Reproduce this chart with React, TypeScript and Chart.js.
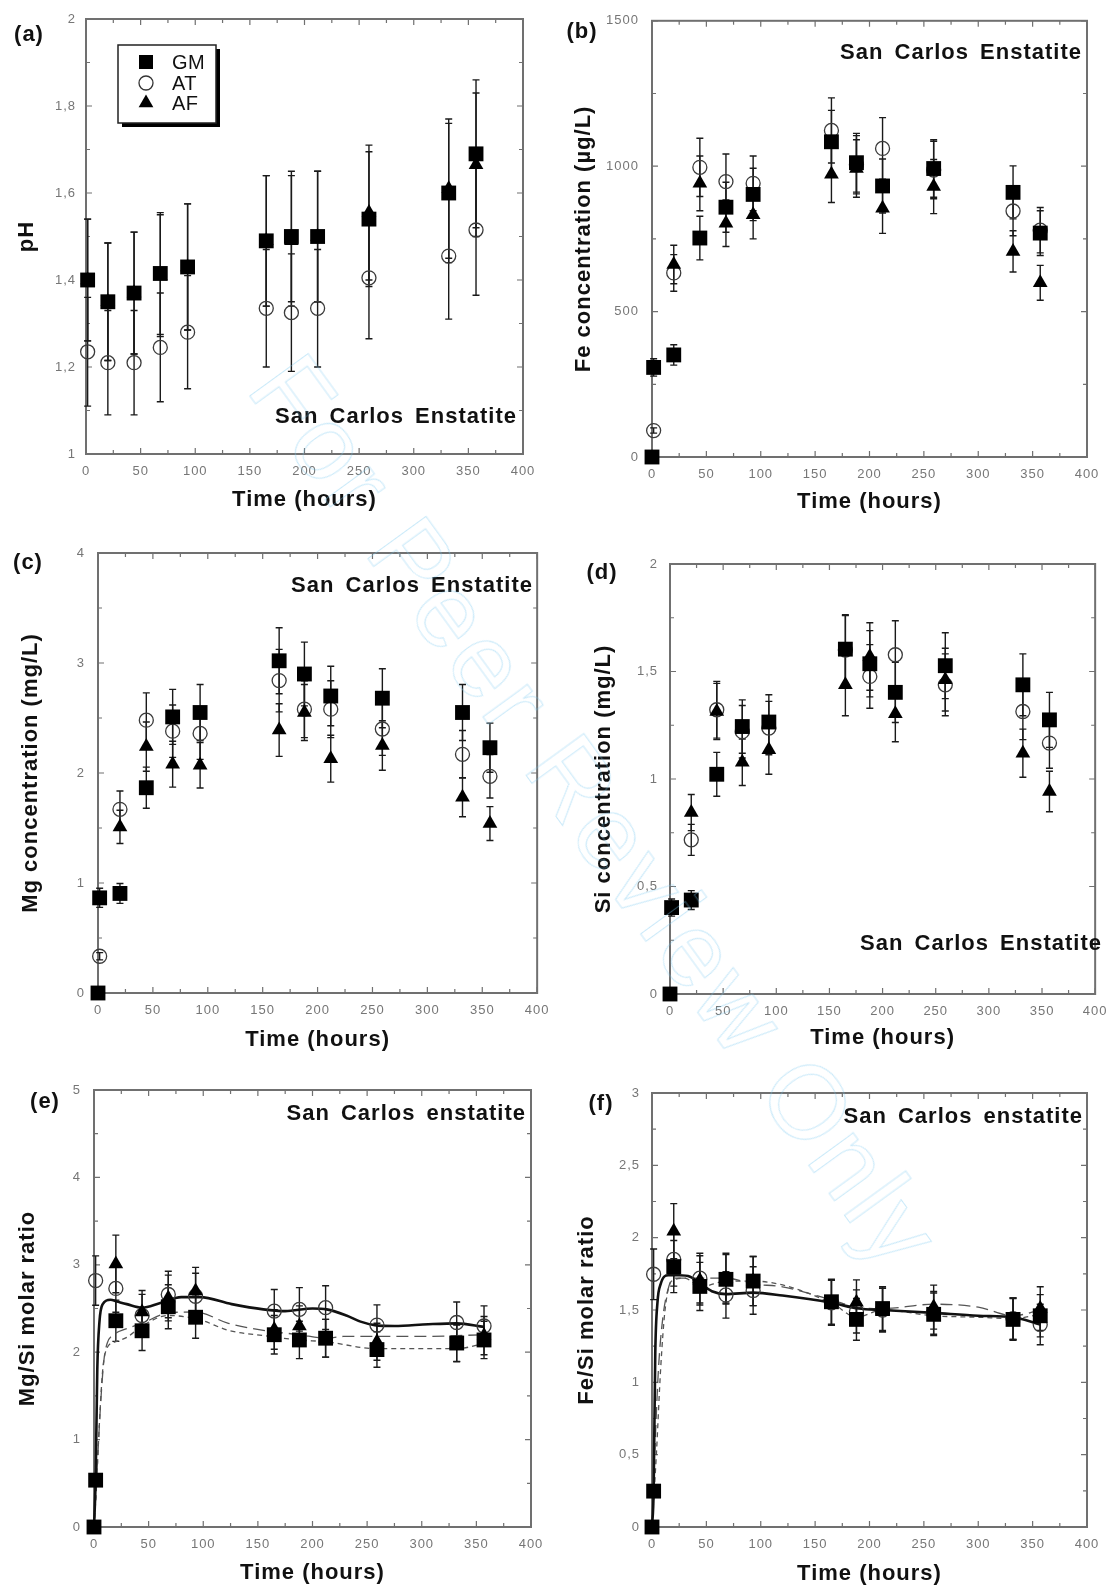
import React, { useEffect, useRef } from 'react';
import { Chart, registerables } from 'chart.js';

Chart.register(...registerables);

const FONT = '"Liberation Sans", Arial, Helvetica, sans-serif';
const TEXT = '#111111';
const TICK_COLOR = '#767676';
const AXIS_COLOR = '#707070';

// Sampling times (hours)
const TIME = [0, 1.5, 20, 44, 68, 93, 165, 188, 212, 259, 332, 357];

// X axis
const X_MIN = 0;
const X_MAX = 400;
const X_STEP = 50;
const X_MINOR = 25;

// (a) pH
const PH_GM = [null, 1.40, 1.35, 1.37, 1.415, 1.43, 1.49, 1.50, 1.50, 1.54, 1.60, 1.69];
const PH_GM_ERR = [null, 0.14, 0.135, 0.14, 0.14, 0.145, 0.15, 0.15, 0.15, 0.155, 0.16, 0.17];
const PH_AT = [null, 1.235, 1.21, 1.21, 1.245, 1.28, 1.335, 1.325, 1.335, 1.405, 1.455, 1.515];
const PH_AT_ERR = [null, 0.125, 0.12, 0.12, 0.125, 0.13, 0.135, 0.135, 0.135, 0.14, 0.145, 0.15];
const PH_AF = [null, 1.40, 1.35, 1.37, 1.41, 1.43, 1.49, 1.49, 1.50, 1.555, 1.61, 1.665];
const PH_AF_ERR = [null, 0.14, 0.135, 0.14, 0.14, 0.145, 0.15, 0.15, 0.15, 0.155, 0.16, 0.165];

// (b) Fe concentration (µg/L)
const FE_GM = [0, 308, 351, 753, 859, 903, 1084, 1012, 932, 992, 910, 770];
const FE_GM_ERR = [0, 30, 35, 75, 86, 90, 108, 101, 93, 99, 91, 77];
const FE_AT = [null, 91, 633, 996, 947, 941, 1123, 1005, 1061, 987, 846, 780];
const FE_AT_ERR = [null, 9, 63, 100, 95, 94, 112, 100, 106, 99, 85, 78];
const FE_AF = [null, null, 662, 941, 804, 833, 972, 992, 855, 930, 707, 599];
const FE_AF_ERR = [null, null, 66, 94, 80, 83, 97, 99, 86, 93, 71, 60];

// (c) Mg concentration (mg/L)
const MG_GM = [0, 0.865, 0.905, 1.866, 2.51, 2.55, 3.02, 2.90, 2.70, 2.68, 2.55, 2.23];
const MG_GM_ERR = [0, 0.087, 0.09, 0.187, 0.25, 0.255, 0.30, 0.29, 0.27, 0.268, 0.255, 0.223];
const MG_AT = [null, 0.334, 1.67, 2.48, 2.38, 2.36, 2.84, 2.58, 2.58, 2.40, 2.17, 1.97];
const MG_AT_ERR = [null, 0.033, 0.167, 0.248, 0.238, 0.236, 0.284, 0.258, 0.258, 0.24, 0.217, 0.197];
const MG_AF = [null, null, 1.51, 2.24, 2.08, 2.07, 2.39, 2.55, 2.13, 2.25, 1.78, 1.54];
const MG_AF_ERR = [null, null, 0.151, 0.224, 0.208, 0.207, 0.239, 0.255, 0.213, 0.225, 0.178, 0.154];

// (d) Si concentration (mg/L)
const SI_GM = [0, 0.402, 0.437, 1.022, 1.244, 1.265, 1.604, 1.536, 1.403, 1.527, 1.438, 1.275];
const SI_GM_ERR = [0, 0.04, 0.044, 0.102, 0.124, 0.127, 0.16, 0.154, 0.14, 0.153, 0.144, 0.128];
const SI_AT = [null, null, 0.717, 1.322, 1.22, 1.237, 1.60, 1.477, 1.578, 1.438, 1.314, 1.167];
const SI_AT_ERR = [null, null, 0.072, 0.132, 0.122, 0.124, 0.16, 0.148, 0.158, 0.144, 0.131, 0.117];
const SI_AF = [null, null, 0.844, 1.314, 1.078, 1.136, 1.438, 1.57, 1.303, 1.462, 1.12, 0.942];
const SI_AF_ERR = [null, null, 0.084, 0.131, 0.108, 0.114, 0.144, 0.157, 0.13, 0.146, 0.112, 0.094];

// (e) Mg/Si molar ratio
const MGSI_GM = [0, 0.536, 2.36, 2.245, 2.52, 2.40, 2.20, 2.14, 2.16, 2.03, 2.105, 2.14];
const MGSI_GM_ERR = [0, 0.054, 0.236, 0.225, 0.252, 0.24, 0.22, 0.214, 0.216, 0.203, 0.21, 0.214];
const MGSI_AT = [null, 2.82, 2.73, 2.42, 2.66, 2.64, 2.47, 2.49, 2.51, 2.31, 2.34, 2.30];
const MGSI_AT_ERR = [null, 0.282, 0.273, 0.242, 0.266, 0.264, 0.247, 0.249, 0.251, 0.231, 0.234, 0.23];
const MGSI_AF = [null, null, 3.01, 2.46, 2.62, 2.70, 2.26, 2.30, 2.16, 2.12, 2.10, 2.19];
const MGSI_AF_ERR = [null, null, 0.33, 0.246, 0.262, 0.27, 0.226, 0.23, 0.216, 0.212, 0.21, 0.219];

// (e) fitted curves
const E_SOLID_T = [0, 1.5, 3, 5, 8, 15, 21, 30, 44, 60, 80, 97, 126, 155, 175, 200, 213, 231, 244, 257, 275, 306, 332, 357];
const E_SOLID_V = [0, 0.54, 1.8, 2.35, 2.55, 2.60, 2.58, 2.55, 2.51, 2.56, 2.63, 2.63, 2.55, 2.49, 2.47, 2.50, 2.49, 2.42, 2.35, 2.31, 2.30, 2.32, 2.33, 2.29];
const E_LONG_T = [0, 3, 6, 9, 12, 18, 30, 44, 68, 93, 123, 155, 188, 213, 228, 260, 300, 357];
const E_LONG_V = [0, 0.7, 1.4, 1.9, 2.1, 2.2, 2.27, 2.33, 2.45, 2.46, 2.33, 2.25, 2.20, 2.16, 2.18, 2.18, 2.18, 2.20];
const E_SHORT_T = [0, 2, 5, 8, 12, 20, 30, 44, 68, 97, 123, 155, 188, 212, 259, 332, 357];
const E_SHORT_V = [0, 0.4, 1.2, 1.8, 2.05, 2.12, 2.17, 2.3, 2.42, 2.37, 2.25, 2.19, 2.14, 2.12, 2.04, 2.04, 2.10];

// (f) Fe/Si molar ratio
const FESI_GM = [0, 0.248, 1.80, 1.663, 1.712, 1.70, 1.557, 1.435, 1.51, 1.47, 1.435, 1.46];
const FESI_GM_ERR = [0, 0.025, 0.18, 0.166, 0.171, 0.17, 0.156, 0.144, 0.151, 0.147, 0.144, 0.146];
const FESI_AT = [null, 1.747, 1.85, 1.72, 1.604, 1.635, 1.55, 1.49, 1.50, 1.48, 1.44, 1.40];
const FESI_AT_ERR = [null, 0.175, 0.185, 0.172, 0.16, 0.164, 0.155, 0.149, 0.15, 0.148, 0.144, 0.14];
const FESI_AF = [null, null, 2.045, 1.705, 1.72, 1.70, 1.55, 1.553, 1.50, 1.52, 1.44, 1.51];
const FESI_AF_ERR = [null, null, 0.19, 0.17, 0.172, 0.17, 0.155, 0.155, 0.15, 0.152, 0.144, 0.151];

// (f) fitted curves
const F_SOLID_T = [0, 1.5, 3, 5, 8, 15, 25, 35, 45, 55, 68, 93, 120, 165, 190, 212, 259, 300, 332, 357];
const F_SOLID_V = [0, 0.25, 1.2, 1.55, 1.68, 1.74, 1.74, 1.73, 1.68, 1.63, 1.61, 1.62, 1.60, 1.55, 1.51, 1.50, 1.48, 1.46, 1.45, 1.40];
const F_LONG_T = [0, 3, 6, 10, 15, 20, 45, 68, 93, 120, 165, 188, 212, 259, 300, 332, 357];
const F_LONG_V = [0, 0.6, 1.1, 1.45, 1.65, 1.72, 1.72, 1.72, 1.68, 1.66, 1.57, 1.52, 1.51, 1.54, 1.52, 1.46, 1.50];
const F_SHORT_T = [0, 4, 8, 12, 18, 30, 45, 68, 93, 165, 188, 212, 259, 300, 332, 357];
const F_SHORT_V = [0, 0.5, 1.1, 1.5, 1.7, 1.72, 1.66, 1.70, 1.70, 1.55, 1.45, 1.50, 1.46, 1.45, 1.44, 1.47];

const LEGEND_LABELS = ['GM', 'AT', 'AF'];

type Curve = { t: number[]; v: number[]; width: number; dash: number[]; color: string };
type PanelCfg = {
  box: [number, number, number, number];
  area: [number, number, number, number];
  yMin: number; yMax: number; yStep: number; yMinor: number;
  yTitle: string; yTitleX: number; xTitleY: number; yLabelPad: number;
  label: string; labelX: number; labelY: number;
  note: string; noteRight: number; noteY: number;
  legend?: boolean;
  gm: [(number | null)[], (number | null)[]];
  at: [(number | null)[], (number | null)[]];
  af: [(number | null)[], (number | null)[]];
  curves?: Curve[];
};

const PANELS: PanelCfg[] = [
  {
    box: [0, 0, 558, 530], area: [86, 19, 523, 454],
    yMin: 1, yMax: 2, yStep: 0.2, yMinor: 0.1,
    yTitle: 'pH', yTitleX: 27, xTitleY: 500, yLabelPad: 10,
    label: '(a)', labelX: 29, labelY: 35,
    note: 'San Carlos Enstatite', noteRight: 517, noteY: 417, legend: true,
    gm: [PH_GM, PH_GM_ERR], at: [PH_AT, PH_AT_ERR], af: [PH_AF, PH_AF_ERR],
  },
  {
    box: [558, 0, 558, 530], area: [652, 20, 1087, 457],
    yMin: 0, yMax: 1500, yStep: 500, yMinor: 250,
    yTitle: 'Fe concentration (µg/L)', yTitleX: 584, xTitleY: 502, yLabelPad: 13,
    label: '(b)', labelX: 582, labelY: 32,
    note: 'San Carlos Enstatite', noteRight: 1082, noteY: 53,
    gm: [FE_GM, FE_GM_ERR], at: [FE_AT, FE_AT_ERR], af: [FE_AF, FE_AF_ERR],
  },
  {
    box: [0, 530, 558, 530], area: [98, 553, 540, 993],
    yMin: 0, yMax: 4, yStep: 1, yMinor: 0.5,
    yTitle: 'Mg concentration (mg/L)', yTitleX: 31, xTitleY: 1040, yLabelPad: 13,
    label: '(c)', labelX: 28, labelY: 563,
    note: 'San Carlos Enstatite', noteRight: 533, noteY: 586,
    gm: [MG_GM, MG_GM_ERR], at: [MG_AT, MG_AT_ERR], af: [MG_AF, MG_AF_ERR],
  },
  {
    box: [558, 530, 558, 530], area: [670, 564, 1100, 994],
    yMin: 0, yMax: 2, yStep: 0.5, yMinor: 0.25,
    yTitle: 'Si concentration (mg/L)', yTitleX: 604, xTitleY: 1038, yLabelPad: 12,
    label: '(d)', labelX: 602, labelY: 573,
    note: 'San Carlos Enstatite', noteRight: 1102, noteY: 944,
    gm: [SI_GM, SI_GM_ERR], at: [SI_AT, SI_AT_ERR], af: [SI_AF, SI_AF_ERR],
  },
  {
    box: [0, 1060, 558, 532], area: [94, 1090, 531, 1527],
    yMin: 0, yMax: 5, yStep: 1, yMinor: 0.5,
    yTitle: 'Mg/Si molar ratio', yTitleX: 28, xTitleY: 1573, yLabelPad: 13,
    label: '(e)', labelX: 45, labelY: 1102,
    note: 'San Carlos enstatite', noteRight: 526, noteY: 1114,
    gm: [MGSI_GM, MGSI_GM_ERR], at: [MGSI_AT, MGSI_AT_ERR], af: [MGSI_AF, MGSI_AF_ERR],
    curves: [
      { t: E_SOLID_T, v: E_SOLID_V, width: 2.6, dash: [], color: '#111' },
      { t: E_LONG_T, v: E_LONG_V, width: 1.3, dash: [12, 6], color: '#555' },
      { t: E_SHORT_T, v: E_SHORT_V, width: 1.3, dash: [5, 4], color: '#555' },
    ],
  },
  {
    box: [558, 1060, 558, 532], area: [652, 1093, 1087, 1527],
    yMin: 0, yMax: 3, yStep: 0.5, yMinor: 0.25,
    yTitle: 'Fe/Si molar ratio', yTitleX: 587, xTitleY: 1574, yLabelPad: 12,
    label: '(f)', labelX: 601, labelY: 1104,
    note: 'San Carlos enstatite', noteRight: 1083, noteY: 1117,
    gm: [FESI_GM, FESI_GM_ERR], at: [FESI_AT, FESI_AT_ERR], af: [FESI_AF, FESI_AF_ERR],
    curves: [
      { t: F_SOLID_T, v: F_SOLID_V, width: 2.6, dash: [], color: '#111' },
      { t: F_LONG_T, v: F_LONG_V, width: 1.3, dash: [12, 6], color: '#555' },
      { t: F_SHORT_T, v: F_SHORT_V, width: 1.3, dash: [5, 4], color: '#555' },
    ],
  },
];

function points(vals: (number | null)[], errs: (number | null)[]) {
  const out: { x: number; y: number; e: number }[] = [];
  TIME.forEach((t, i) => {
    const v = vals[i];
    if (v !== null && v !== undefined) out.push({ x: t, y: v, e: errs[i] || 0 });
  });
  return out;
}

const fmt = (v: any) => {
  const r = Math.round(Number(v) * 1000) / 1000;
  return String(r).replace('.', ',');
};

function drawMarker(ctx: CanvasRenderingContext2D, kind: string, x: number, y: number) {
  ctx.save();
  ctx.fillStyle = '#000';
  ctx.strokeStyle = '#333';
  ctx.lineWidth = 1.3;
  if (kind === 'GM') {
    ctx.fillRect(x - 7, y - 7, 14, 14);
  } else if (kind === 'AT') {
    ctx.beginPath();
    ctx.arc(x, y, 7, 0, Math.PI * 2);
    ctx.stroke();
  } else {
    const r = 8.5;
    ctx.beginPath();
    ctx.moveTo(x, y - r);
    ctx.lineTo(x + r * 0.866, y + r * 0.5);
    ctx.lineTo(x - r * 0.866, y + r * 0.5);
    ctx.closePath();
    ctx.fill();
  }
  ctx.restore();
}

function buildConfig(cfg: PanelCfg): any {
  const [x0, y0, w, h] = cfg.box;
  const [L, T, R, B] = cfg.area;
  const yWidth = L - x0;
  const xHeight = y0 + h - B;
  const titleHalf = 22 * 1.2 / 2;

  const datasets: any[] = [
    {
      label: 'GM', data: points(cfg.gm[0], cfg.gm[1]), errorBars: true,
      pointStyle: 'rect', pointRadius: 10.5, pointBackgroundColor: '#000', pointBorderWidth: 0,
      pointBorderColor: '#000', showLine: false, order: 0, clip: false,
    },
    {
      label: 'AF', data: points(cfg.af[0], cfg.af[1]), errorBars: true,
      pointStyle: 'triangle', pointRadius: 8.5, pointBackgroundColor: '#000', pointBorderWidth: 0,
      pointBorderColor: '#000', showLine: false, order: 1, clip: false,
    },
    {
      label: 'AT', data: points(cfg.at[0], cfg.at[1]), errorBars: true,
      pointStyle: 'circle', pointRadius: 7, pointBackgroundColor: 'rgba(0,0,0,0)', pointBorderWidth: 1.3,
      pointBorderColor: '#3a3a3a', showLine: false, order: 2, clip: false,
    },
  ];
  (cfg.curves || []).forEach((c, k) => {
    datasets.push({
      label: 'fit' + k,
      data: c.t.map((t, i) => ({ x: t, y: c.v[i] })),
      showLine: true, pointRadius: 0, borderColor: c.color, borderWidth: c.width,
      borderDash: c.dash, cubicInterpolationMode: 'monotone', fill: false,
      order: 3 + k, clip: false,
    });
  });

  const deco = {
    id: 'deco',
    beforeDraw(chart: any) {
      chart.ctx.letterSpacing = '1px';
    },
    beforeDatasetsDraw(chart: any) {
      const { ctx, chartArea: ca, scales } = chart;
      const xs = scales.x;
      const ys = scales.y;
      ctx.save();
      ctx.strokeStyle = AXIS_COLOR;
      ctx.lineWidth = 1.2;
      const nx = Math.round((X_MAX - X_MIN) / X_MINOR);
      const xRatio = Math.round(X_STEP / X_MINOR);
      for (let k = 0; k <= nx; k++) {
        const v = X_MIN + k * X_MINOR;
        const px = xs.getPixelForValue(v);
        const len = k % xRatio === 0 ? 6 : 4;
        ctx.beginPath();
        ctx.moveTo(px, ca.bottom); ctx.lineTo(px, ca.bottom - len);
        ctx.moveTo(px, ca.top); ctx.lineTo(px, ca.top + len);
        ctx.stroke();
      }
      const ny = Math.round((cfg.yMax - cfg.yMin) / cfg.yMinor);
      const yRatio = Math.round(cfg.yStep / cfg.yMinor);
      for (let k = 0; k <= ny; k++) {
        const v = cfg.yMin + k * cfg.yMinor;
        const py = ys.getPixelForValue(v);
        const len = k % yRatio === 0 ? 6 : 4;
        ctx.beginPath();
        ctx.moveTo(ca.left, py); ctx.lineTo(ca.left + len, py);
        ctx.moveTo(ca.right, py); ctx.lineTo(ca.right - len, py);
        ctx.stroke();
      }
      ctx.lineWidth = 2;
      ctx.strokeRect(ca.left, ca.top, ca.right - ca.left, ca.bottom - ca.top);
      ctx.strokeStyle = '#1a1a1a';
      ctx.lineWidth = 1.4;
      chart.data.datasets.forEach((ds: any) => {
        if (!ds.errorBars) return;
        ds.data.forEach((p: any) => {
          if (!p.e) return;
          const px = xs.getPixelForValue(p.x);
          const y1 = ys.getPixelForValue(p.y + p.e);
          const y2 = ys.getPixelForValue(p.y - p.e);
          ctx.beginPath();
          ctx.moveTo(px, y1); ctx.lineTo(px, y2);
          ctx.moveTo(px - 3.5, y1); ctx.lineTo(px + 3.5, y1);
          ctx.moveTo(px - 3.5, y2); ctx.lineTo(px + 3.5, y2);
          ctx.stroke();
        });
      });
      ctx.restore();
    },
    afterDraw(chart: any) {
      const { ctx } = chart;
      ctx.save();
      ctx.fillStyle = TEXT;
      ctx.textBaseline = 'middle';
      ctx.letterSpacing = '1px';
      ctx.font = `bold 22px ${FONT}`;
      ctx.textAlign = 'center';
      ctx.fillText(cfg.label, cfg.labelX - x0, cfg.labelY - y0);
      ctx.textAlign = 'right';
      try { (ctx as any).wordSpacing = '4px'; } catch (e) { /* ignore */ }
      ctx.fillText(cfg.note, cfg.noteRight - x0, cfg.noteY - y0);
      try { (ctx as any).wordSpacing = '0px'; } catch (e) { /* ignore */ }
      if (cfg.legend) {
        const bx = 118 - x0, by = 45 - y0, bw = 98, bh = 78;
        ctx.fillStyle = '#000';
        ctx.fillRect(bx + 4, by + 4, bw, bh);
        ctx.fillStyle = '#fff';
        ctx.fillRect(bx, by, bw, bh);
        ctx.strokeStyle = '#222';
        ctx.lineWidth = 1.5;
        ctx.strokeRect(bx, by, bw, bh);
        const rows = [62, 83, 103];
        ctx.font = `20px ${FONT}`;
        ctx.textAlign = 'left';
        ctx.letterSpacing = '0.5px';
        LEGEND_LABELS.forEach((lab, i) => {
          drawMarker(ctx, lab, 146 - x0, rows[i] - y0);
          ctx.fillStyle = TEXT;
          ctx.fillText(lab, 172 - x0, rows[i] - y0 + 1);
        });
      }
      ctx.restore();
    },
  };

  return {
    type: 'scatter',
    data: { datasets },
    plugins: [deco],
    options: {
      responsive: false,
      animation: false,
      devicePixelRatio: 1,
      events: [],
      layout: { padding: { left: 0, top: T - y0, right: x0 + w - R, bottom: 0 } },
      plugins: { legend: { display: false }, tooltip: { enabled: false } },
      scales: {
        x: {
          type: 'linear', min: X_MIN, max: X_MAX,
          ticks: {
            stepSize: X_STEP, color: TICK_COLOR, font: { family: FONT, size: 13 },
            padding: 10, maxRotation: 0, autoSkip: false, callback: fmt,
          },
          grid: { display: false, drawTicks: false },
          border: { display: false },
          title: {
            display: true, text: 'Time (hours)', color: TEXT,
            font: { family: FONT, size: 22, weight: 'bold' },
            padding: { top: 0, bottom: (y0 + h - cfg.xTitleY) - titleHalf },
          },
          afterFit: (s: any) => { s.height = xHeight; },
        },
        y: {
          type: 'linear', min: cfg.yMin, max: cfg.yMax,
          ticks: {
            stepSize: cfg.yStep, color: TICK_COLOR, font: { family: FONT, size: 13 },
            padding: cfg.yLabelPad, autoSkip: false, callback: fmt,
          },
          grid: { display: false, drawTicks: false },
          border: { display: false },
          title: {
            display: true, text: cfg.yTitle, color: TEXT,
            font: { family: FONT, size: 22, weight: 'bold' },
            padding: { top: (cfg.yTitleX - x0) - titleHalf, bottom: 0 },
          },
          afterFit: (s: any) => { s.width = yWidth; },
        },
      },
    },
  };
}

function Panel({ cfg }: { cfg: PanelCfg }) {
  const ref = useRef<HTMLCanvasElement>(null);
  useEffect(() => {
    if (!ref.current) return;
    const chart = new Chart(ref.current, buildConfig(cfg));
    return () => chart.destroy();
  }, [cfg]);
  const [x0, y0, w, h] = cfg.box;
  return (
    <canvas
      ref={ref}
      width={w}
      height={h}
      style={{ position: 'absolute', left: x0, top: y0, width: w, height: h }}
    />
  );
}

export default function App() {
  return (
    <div style={{ position: 'absolute', left: 0, top: 0, width: 1116, height: 1592, background: '#fff', overflow: 'hidden' }}>
      {PANELS.map((p) => (
        <Panel key={p.label} cfg={p} />
      ))}
      <div
        style={{
          position: 'absolute', left: 596, top: 812,
          transform: 'translate(-50%, -50%) rotate(54deg)',
          fontFamily: FONT, fontSize: 104, color: 'transparent',
          WebkitTextStroke: '1px rgba(120, 200, 240, 0.4)',
          whiteSpace: 'nowrap', pointerEvents: 'none', letterSpacing: '4px',
        }}
      >
        For Peer Review Only
      </div>
    </div>
  );
}
